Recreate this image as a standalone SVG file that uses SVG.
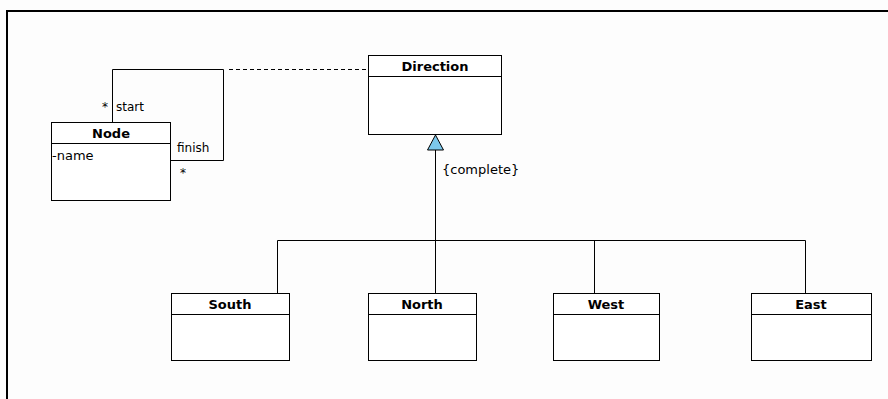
<svg xmlns="http://www.w3.org/2000/svg" width="888" height="399" viewBox="0 0 888 399">
<style>
.box{fill:#fff;stroke:#000;stroke-width:1}
.t{font-family:"DejaVu Sans",Verdana,sans-serif;font-size:13px;font-weight:bold;text-anchor:middle;fill:#000}
.l{font-family:"DejaVu Sans",Verdana,sans-serif;font-size:12px;fill:#000}
.c{fill:none;stroke:#000;stroke-width:1}
</style>
<rect x="0" y="0" width="888" height="399" fill="#fdfdfd"/>
<path d="M7 399 V11 H888" fill="none" stroke="#000" stroke-width="2"/>
<g id="connectors">
<path class="c" d="M112.5 122 V69.5 H223.5 V160.5 H171"/>
<path class="c" d="M229 69.5 H369" stroke-dasharray="4,3"/>
<path class="c" d="M435.5 150 V293"/>
<path class="c" d="M277.5 293 V240.5 H805.5 V293"/>
<path class="c" d="M594.5 240.5 V293"/>
<polygon points="435.5,135 427.5,150 443.5,150" fill="#7cc8ec" stroke="#000" stroke-width="1"/>
<text class="l" x="102" y="111">*</text>
<text class="l" x="116" y="111">start</text>
<text class="l" x="177" y="152">finish</text>
<text class="l" x="180" y="177">*</text>
<text class="l" x="442" y="174" style="font-size:13px">{complete}</text>
</g>
<g id="Node">
<rect class="box" x="51.5" y="122.5" width="119" height="78"/>
<line class="c" x1="51.5" y1="143.5" x2="170.5" y2="143.5"/>
<text class="t" x="111" y="138">Node</text>
<text class="l" x="52" y="160" style="font-size:13px">-name</text>
</g>
<g id="Direction">
<rect class="box" x="368.5" y="55.5" width="133" height="79"/>
<line class="c" x1="368.5" y1="76.5" x2="501.5" y2="76.5"/>
<text class="t" x="435" y="71">Direction</text>
</g>
<g id="South">
<rect class="box" x="171.5" y="293.5" width="118" height="67"/>
<line class="c" x1="171.5" y1="314.5" x2="289.5" y2="314.5"/>
<text class="t" x="230" y="309">South</text>
</g>
<g id="North">
<rect class="box" x="368.5" y="293.5" width="108" height="67"/>
<line class="c" x1="368.5" y1="314.5" x2="476.5" y2="314.5"/>
<text class="t" x="422" y="309">North</text>
</g>
<g id="West">
<rect class="box" x="553.5" y="293.5" width="106" height="67"/>
<line class="c" x1="553.5" y1="314.5" x2="659.5" y2="314.5"/>
<text class="t" x="606" y="309">West</text>
</g>
<g id="East">
<rect class="box" x="751.5" y="293.5" width="120" height="67"/>
<line class="c" x1="751.5" y1="314.5" x2="871.5" y2="314.5"/>
<text class="t" x="811" y="309">East</text>
</g>
</svg>
